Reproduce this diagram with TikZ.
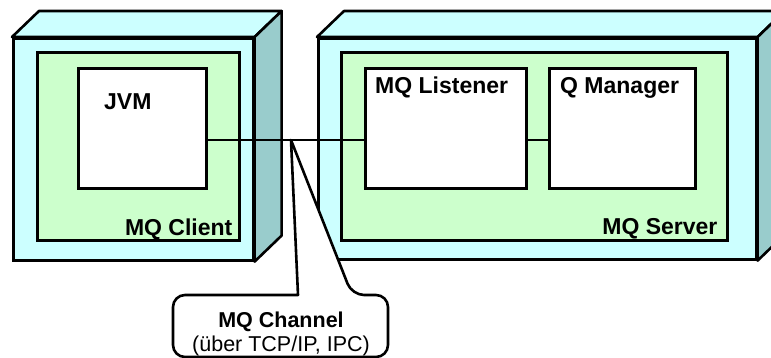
\documentclass[tikz,border=0pt]{standalone}
\usepackage{fontspec}
\setmainfont{Liberation Sans}
\usetikzlibrary{positioning}
\definecolor{cubefront}{RGB}{204,255,255}
\definecolor{cubeside}{RGB}{153,204,204}
\definecolor{env}{RGB}{204,255,204}
\tikzstyle{every box} = [draw, line width=2.6pt, inner sep=0pt, anchor=north west]
\tikzstyle{front} = [every box, fill=cubefront]
\tikzstyle{envbox} = [every box, fill=env]
\tikzstyle{comp} = [every box, fill=white]
\tikzstyle{lbl} = [inner sep=0pt, font=\fontsize{23}{27}\selectfont\bfseries]
\tikzstyle{link} = [draw, line width=2.6pt]

\begin{document}
\begin{tikzpicture}[x=1pt, y=-1pt]
                    \useasboundingbox (0,0) rectangle (771,358);
                    % cubes
                    \node[front, minimum width=240pt, minimum height=222pt] (client) at (12,37) {};
                    \node[front, minimum width=438pt, minimum height=221pt] (server) at (317,37) {};
                    \foreach \c in {client,server} {
                        \draw[line width=2.6pt, fill=cubefront, line join=round]
                            (\c.north west) -- ++(27,-26) -- ([shift={(27,-26)}]\c.north east) -- (\c.north east) -- cycle;
                        \draw[line width=2.6pt, fill=cubeside, line join=round]
                            (\c.north east) -- ++(27,-26) -- ([shift={(27,-26)}]\c.south east) -- (\c.south east) -- cycle;
                    }

                    % environments
                    \node[envbox, minimum width=202pt, minimum height=188pt] (clientenv) at (36,51) {};
                    \node[envbox, minimum width=386pt, minimum height=188pt] (serverenv) at (340,51) {};
                    \node[lbl, anchor=base east] at ([shift={(-8,-6)}]clientenv.south east) {MQ Client};
                    \node[lbl, anchor=base east] at ([shift={(-11,-7)}]serverenv.south east) {MQ Server};

                    % components
                    \node[comp, minimum width=128pt, minimum height=120pt] (jvm) at (77,67) {};
                    \node[comp, minimum width=161pt, minimum height=120pt] (listener) at (364,67) {};
                    \node[comp, minimum width=146pt, minimum height=120pt] (manager) at (548,67) {};
                    \node[lbl, anchor=base west] at ([shift={(27,43)}]jvm.north west) {JVM};
                    \node[lbl, anchor=base west] at ([shift={(11,27)}]listener.north west) {MQ Listener};
                    \node[lbl, anchor=base west] at ([shift={(12,27)}]manager.north west) {Q Manager};

                    % channel
                    \coordinate (tip) at (291,140);
                    \draw[link] (jvm.east |- tip) -- (listener.west |- tip);
                    \draw[link] (listener.east |- tip) -- (manager.west |- tip);
                    \draw[line width=2.6pt, fill=white, line join=round]
                        (tip) -- (298,295) [rounded corners=12pt] -- (173,295) -- (173,357) -- (388,357) -- (388,295) -- (352,295) [sharp corners] -- cycle;
                    \node[align=center, inner sep=0pt, font=\fontsize{21.5}{24}\selectfont] (chan) at (281,334)
                        {\bfseries MQ Channel\\(über TCP/IP, IPC)};
                \end{tikzpicture}
\end{document}
